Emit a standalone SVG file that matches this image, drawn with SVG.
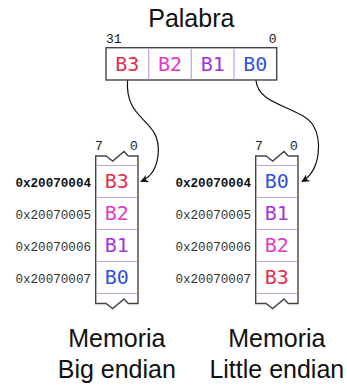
<svg xmlns="http://www.w3.org/2000/svg" width="347" height="387" viewBox="0 0 347 387">
<style>
.title{font-family:"Liberation Sans",Arial,sans-serif;font-size:25px;fill:#111;text-anchor:middle}
.byte{font-family:"DejaVu Sans Mono",monospace;font-size:20px;text-anchor:middle}
.bit{font-family:"Liberation Mono",monospace;font-size:13px;fill:#222}
.addr{font-family:"Liberation Mono",monospace;font-size:12.6px;fill:#333;text-anchor:end}
.b{font-weight:bold;fill:#111}
.div{stroke:#a8acf0;stroke-width:1.2;fill:none}
.box{fill:#fff;stroke:#444;stroke-width:1.4}
.c3{fill:#e2304c}.c2{fill:#e23cc6}.c1{fill:#a432e2}.c0{fill:#3253de}
.conn{fill:none;stroke:#111;stroke-width:1.2}
</style>
<defs>
<marker id="ah" viewBox="0 0 10 10" refX="9" refY="5" markerWidth="8" markerHeight="8" markerUnits="userSpaceOnUse" orient="auto">
<path d="M0,0 L10,5 L0,10 L3,5 Z" fill="#111"/>
</marker>
</defs>

<g id="palabra">
<text class="title" x="191.3" y="27">Palabra</text>
<text class="bit" x="106" y="43.3">31</text>
<text class="bit" x="276.5" y="43.3" text-anchor="end">0</text>
<rect class="box" x="106" y="47.7" width="170.7" height="32.3"/>
<path class="div" d="M148.7,48.4V79.3M191.3,48.4V79.3M234,48.4V79.3"/>
<text class="byte c3" x="127.3" y="70.5">B3</text>
<text class="byte c2" x="170" y="70.5">B2</text>
<text class="byte c1" x="212.7" y="70.5">B1</text>
<text class="byte c0" x="255.3" y="70.5">B0</text>
</g>

<g id="mem-big">
<text class="bit" x="99" y="150" text-anchor="middle">7</text>
<text class="bit" x="134" y="150" text-anchor="middle">0</text>
<path class="box" d="M95.7,156H106L112.7,161L124,151.5L128.3,156H138V303.5H128.3L124,299L112.7,308.5L106,303.5H95.7Z"/>
<path class="div" d="M96.4,165.5H137.3M96.4,197.5H137.3M96.4,229.5H137.3M96.4,261.5H137.3M96.4,293.5H137.3"/>
<text class="byte c3" x="116.8" y="188">B3</text>
<text class="byte c2" x="116.8" y="220">B2</text>
<text class="byte c1" x="116.8" y="252">B1</text>
<text class="byte c0" x="116.8" y="284">B0</text>
<text class="addr b" x="91" y="186.5">0x20070004</text>
<text class="addr" x="91" y="218.5">0x20070005</text>
<text class="addr" x="91" y="250.5">0x20070006</text>
<text class="addr" x="91" y="282.5">0x20070007</text>
<text class="title" x="116.8" y="347">Memoria</text>
<text class="title" x="116.8" y="377.5">Big endian</text>
</g>

<g id="mem-little">
<text class="bit" x="259" y="150" text-anchor="middle">7</text>
<text class="bit" x="294" y="150" text-anchor="middle">0</text>
<path class="box" d="M255.7,156H266L272.7,161L284,151.5L288.3,156H298V303.5H288.3L284,299L272.7,308.5L266,303.5H255.7Z"/>
<path class="div" d="M256.4,165.5H297.3M256.4,197.5H297.3M256.4,229.5H297.3M256.4,261.5H297.3M256.4,293.5H297.3"/>
<text class="byte c0" x="276.8" y="188">B0</text>
<text class="byte c1" x="276.8" y="220">B1</text>
<text class="byte c2" x="276.8" y="252">B2</text>
<text class="byte c3" x="276.8" y="284">B3</text>
<text class="addr b" x="251" y="186.5">0x20070004</text>
<text class="addr" x="251" y="218.5">0x20070005</text>
<text class="addr" x="251" y="250.5">0x20070006</text>
<text class="addr" x="251" y="282.5">0x20070007</text>
<text class="title" x="276.8" y="347">Memoria</text>
<text class="title" x="276.8" y="377.5">Little endian</text>
</g>

<g id="connectors">
<path class="conn" marker-end="url(#ah)" d="M127.5,80.5C125,122 160,118 158.3,152C157.5,168 151,177 141,181.5"/>
<path class="conn" marker-end="url(#ah)" d="M256,80.5C258,106 300,106 313,125C322,140 321,170 302,181.5"/>
</g>
</svg>
